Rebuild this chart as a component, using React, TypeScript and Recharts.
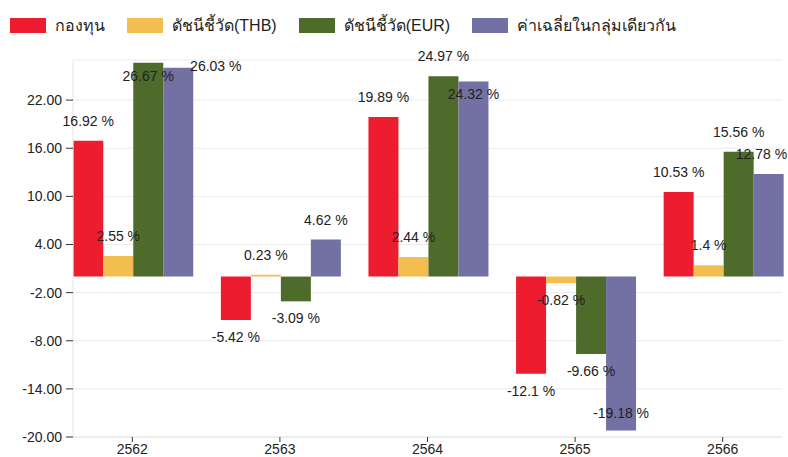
import React from 'react';
import { BarChart, Bar, XAxis, YAxis, CartesianGrid, LabelList } from 'recharts';

const CATEGORIES = ['2562', '2563', '2564', '2565', '2566'];
const FUND = [16.92, -5.42, 19.89, -12.1, 10.53];
const BENCH_THB = [2.55, 0.23, 2.44, -0.82, 1.4];
const BENCH_EUR = [26.67, -3.09, 24.97, -9.66, 15.56];
const PEER_AVG = [26.03, 4.62, 24.32, -19.18, 12.78];
const Y_TICKS = [-20, -14, -8, -2, 4, 10, 16, 22];

const SERIES = [
  { key: 'fund', name: 'กองทุน', color: '#ED1C2E', values: FUND },
  { key: 'thb', name: 'ดัชนีชี้วัด(THB)', color: '#F2BE4F', values: BENCH_THB },
  { key: 'eur', name: 'ดัชนีชี้วัด(EUR)', color: '#4F6B2C', values: BENCH_EUR },
  { key: 'avg', name: 'ค่าเฉลี่ยในกลุ่มเดียวกัน', color: '#7370A3', values: PEER_AVG },
];

const data = CATEGORIES.map((year, i) => {
  const row: Record<string, any> = { year };
  SERIES.forEach((s) => (row[s.key] = s.values[i]));
  return row;
});

const W = 788;
const H = 457;
const FONT = '"Liberation Sans", Arial, sans-serif';

const textW = (t: string) => t.length * 7.3;

// label candidates: outside the bar end, then just inside it, then beside it
const candidates = (value: number, barX: number, barW: number, end: number) => {
  const cx = barX + barW / 2;
  const w = textW(`${value} %`);
  const list = [];
  const out = value >= 0 ? end - 20 : end + 17;
  if (out >= 52 && out <= 428) list.push({ cx, cy: out });
  list.push({ cx, cy: value >= 0 ? end + 13 : end - 17 });
  list.push({ cx: barX + barW - 3 + w / 2, cy: end - 2 });
  return list;
};

const makeLabel = (si: number) => (props: any) => {
  const { x, y, width, height, value, index } = props;
  const top = Math.min(y, y + height);
  const bottom = Math.max(y, y + height);
  const end = value >= 0 ? top : bottom;
  const base = value >= 0 ? bottom : top;
  const text = `${value} %`;
  const w = textW(text);
  const opts = candidates(value, x, width, end);
  let pos = opts[0];

  if (si > 0 && value !== 0) {
    const ppu = Math.abs(bottom - top) / Math.abs(value);
    const pv = SERIES[si - 1].values[index];
    const prev = candidates(pv, x - width, width, base - pv * ppu)[0];
    const pw = textW(`${pv} %`);
    const hits = (p: { cx: number; cy: number }) =>
      Math.abs(p.cx - prev.cx) < (w + pw) / 2 && Math.abs(p.cy - prev.cy) < 14;
    pos = opts.find((p) => !hits(p)) || opts[opts.length - 1];
  }
  let cx = pos.cx;
  if (cx + w / 2 > W - 1) cx = W - 1 - w / 2;

  return (
    <text x={cx} y={pos.cy} textAnchor="middle" dominantBaseline="central" fontSize={14} fill="#222" fontFamily={FONT}>
      {text}
    </text>
  );
};

const ChartLegend = () => (
  <div style={{ position: 'absolute', left: 10, top: 13, display: 'flex', alignItems: 'center', fontFamily: FONT, fontSize: 16, color: '#222' }}>
    {SERIES.map((s) => (
      <div key={s.key} style={{ display: 'flex', alignItems: 'center', marginRight: 22 }}>
        <span style={{ display: 'inline-block', width: 36, height: 15, background: s.color, marginRight: 9 }} />
        <span>{s.name}</span>
      </div>
    ))}
  </div>
);

const App = () => {
  return (
    <div style={{ position: 'absolute', left: 0, top: 0, width: W, height: H, background: '#fff' }}>
      <ChartLegend />
      <BarChart
        width={W}
        height={H}
        data={data}
        margin={{ top: 60, right: 6, left: 0, bottom: 0 }}
        barCategoryGap="10%"
        barGap={0}
      >
        <CartesianGrid vertical={false} stroke="#ebebeb" />
        <XAxis
          dataKey="year"
          height={20}
          padding={{ left: -14.5, right: -14.5 }}
          axisLine={{ stroke: '#e6e6e6' }}
          tickLine={{ stroke: '#333' }}
          tickSize={5}
          tickMargin={2}
          tick={{ fill: '#222', fontSize: 14, fontFamily: FONT }}
        />
        <YAxis
          width={73}
          domain={[-20, 27]}
          ticks={Y_TICKS}
          interval={0}
          allowDataOverflow
          axisLine={{ stroke: '#e6e6e6' }}
          tickLine={{ stroke: '#333' }}
          tickSize={7}
          tickMargin={4}
          tickFormatter={(v: number) => v.toFixed(2)}
          tick={{ fill: '#222', fontSize: 14, fontFamily: FONT }}
        />
        {SERIES.map((s, si) => (
          <Bar key={s.key} dataKey={s.key} name={s.name} fill={s.color} isAnimationActive={false}>
            <LabelList dataKey={s.key} content={makeLabel(si)} />
          </Bar>
        ))}
      </BarChart>
    </div>
  );
};

export default App;
